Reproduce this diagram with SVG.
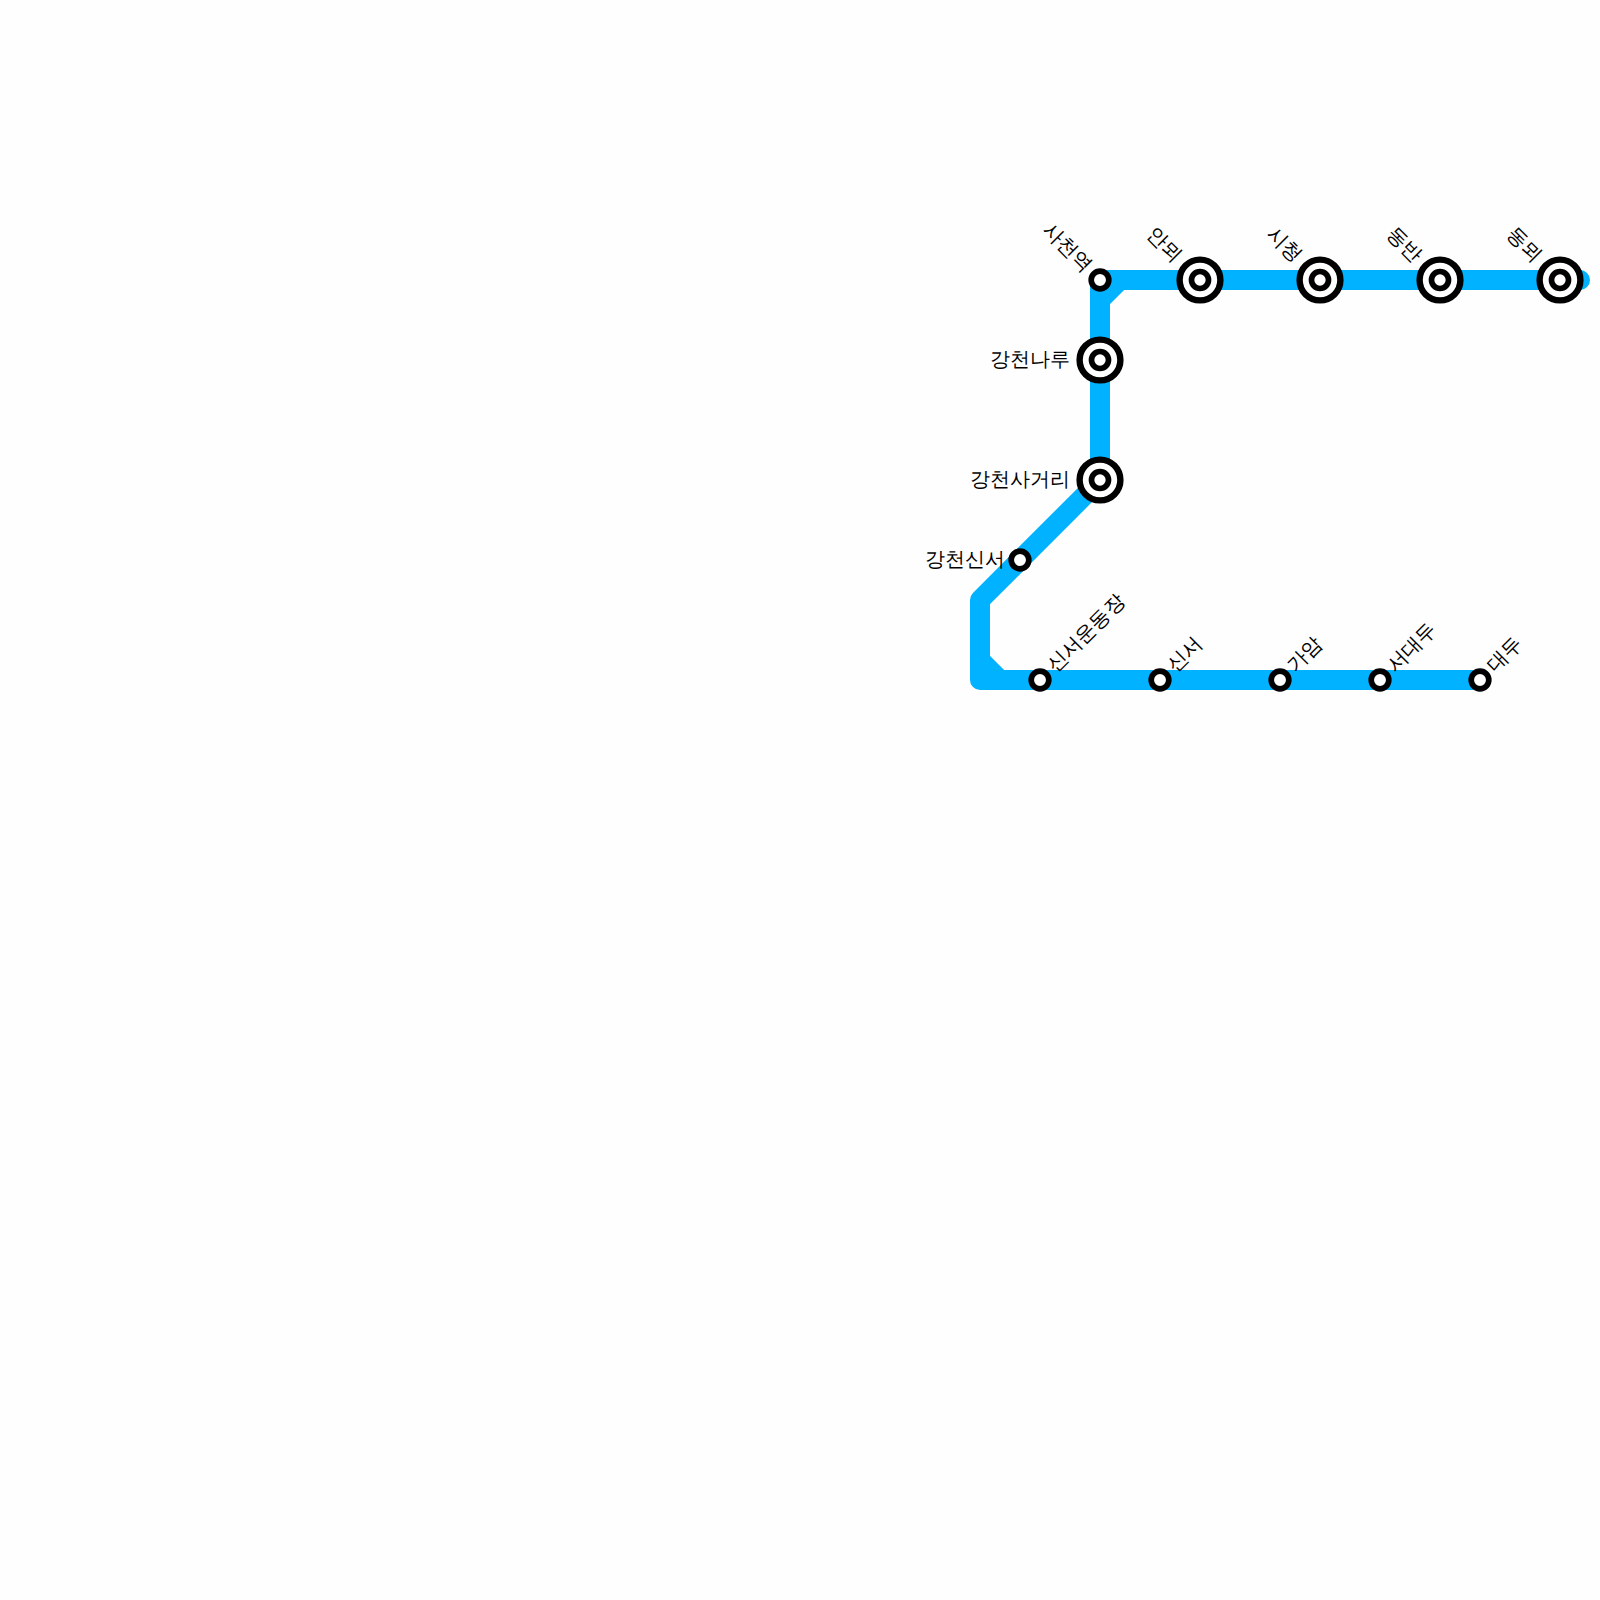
<svg xmlns="http://www.w3.org/2000/svg" width="1600" height="1600" viewBox="0 0 1600 1600">
<style>
.l{fill:none;stroke:#00b2ff;stroke-width:20;stroke-linejoin:round;stroke-linecap:round}
.o{fill:#fff;stroke:#000;stroke-width:5.7}
.r{fill:#fff;stroke:#000;stroke-width:6.4}
.t{font-family:"Liberation Sans",sans-serif;font-size:20px;fill:#000}
.e{text-anchor:end}
</style>
<rect width="1600" height="1600" fill="#fefefe"/>
<g id="connectors">
<path class="l" d="M1580 280H1120L1100 300V480L980 600V680H1480"/>
<path class="l" d="M1120 280H1100V300M980 660L1000 680"/>
</g>
<defs>
<g id="s"><circle class="o" r="8.8"/></g>
<g id="b"><circle class="r" r="20.4"/><circle class="o" r="8.5"/></g>
</defs>
<g id="n1"><use href="#s" x="1100" y="280"/><text class="t e" transform="translate(1089 268) rotate(45)" y="7">사천역</text></g>
<g id="n2"><use href="#b" x="1200" y="280"/><text class="t e" transform="translate(1179 258) rotate(45)" y="7">안뫼</text></g>
<g id="n3"><use href="#b" x="1320" y="280"/><text class="t e" transform="translate(1299 258) rotate(45)" y="7">시청</text></g>
<g id="n4"><use href="#b" x="1440" y="280"/><text class="t e" transform="translate(1419 258) rotate(45)" y="7">동반</text></g>
<g id="n5"><use href="#b" x="1560" y="280"/><text class="t e" transform="translate(1539 258) rotate(45)" y="7">동뫼</text></g>
<g id="n6"><use href="#b" x="1100" y="360"/><text class="t e" x="1070" y="366">강천나루</text></g>
<g id="n7"><use href="#b" x="1100" y="480"/><text class="t e" x="1070" y="486">강천사거리</text></g>
<g id="n8"><use href="#s" x="1020" y="560"/><text class="t e" x="1005" y="566">강천신서</text></g>
<g id="n9"><use href="#s" x="1040" y="680"/><text class="t" transform="translate(1050 668) rotate(-45)" y="7">신서운동장</text></g>
<g id="n10"><use href="#s" x="1160" y="680"/><text class="t" transform="translate(1170 668) rotate(-45)" y="7">신서</text></g>
<g id="n11"><use href="#s" x="1280" y="680"/><text class="t" transform="translate(1290 668) rotate(-45)" y="7">가암</text></g>
<g id="n12"><use href="#s" x="1380" y="680"/><text class="t" transform="translate(1390 668) rotate(-45)" y="7">서대두</text></g>
<g id="n13"><use href="#s" x="1480" y="680"/><text class="t" transform="translate(1490 668) rotate(-45)" y="7">대두</text></g>
</svg>
